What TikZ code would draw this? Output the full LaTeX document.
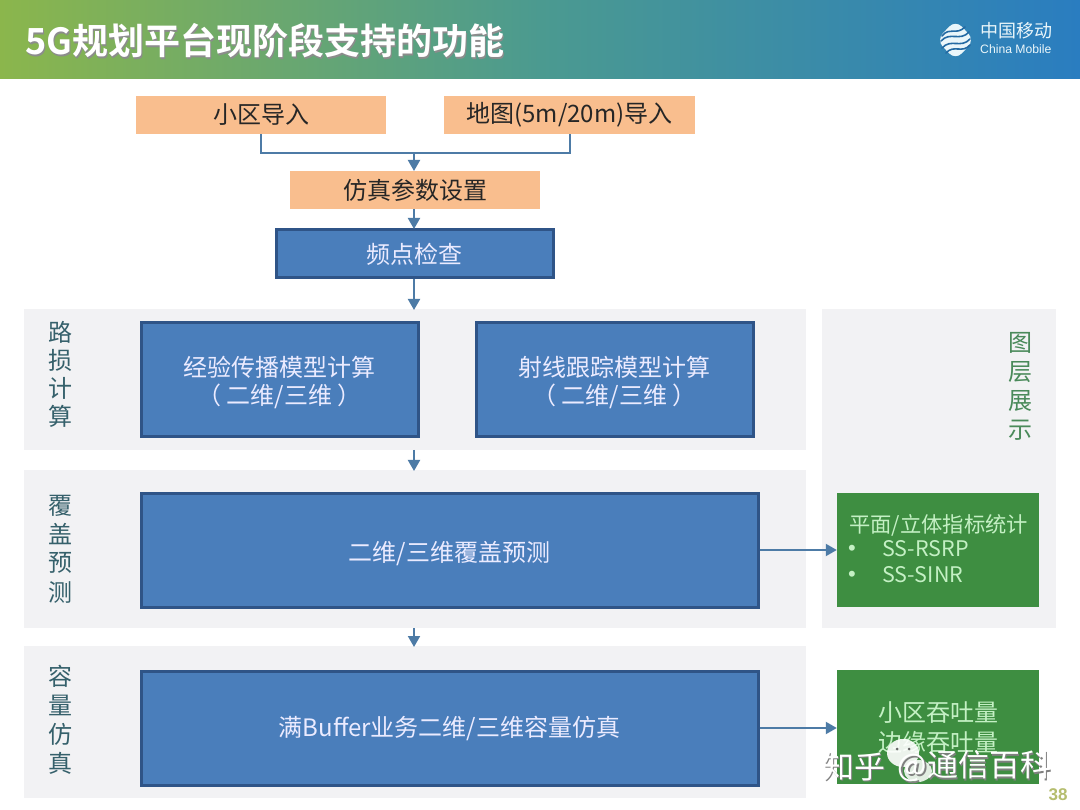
\documentclass[tikz,border=0pt]{standalone}
\usepackage{fontspec}
\setmainfont{Noto Sans CJK SC}
\newfontfamily\boldcjk{Noto Sans CJK SC Bold}
\newfontfamily\latinf{Liberation Sans}
\usetikzlibrary{arrows.meta,shadings}
\definecolor{peach}{HTML}{F9BE8E}
\definecolor{bluefill}{HTML}{4A7EBB}
\definecolor{blueline}{HTML}{2F5487}
\definecolor{arrowc}{HTML}{4D7BA6}
\definecolor{panelc}{HTML}{F2F2F4}
\definecolor{greenbox}{HTML}{3E8E41}
\definecolor{lightgreen}{HTML}{C4F0C4}
\definecolor{greentxt}{HTML}{4A8A5A}
\definecolor{sidetxt}{HTML}{35606B}
\definecolor{headl}{HTML}{8BB64C}
\definecolor{headm}{HTML}{4B9A90}
\definecolor{headr}{HTML}{2A7DC0}
\definecolor{logoc}{HTML}{EAF6FA}
\definecolor{pagec}{HTML}{B5BD6E}
\tikzset{
 x=1pt,y=-1pt,
 peachbox/.style={fill=peach,draw=none,text=black!85,font=\fontsize{24}{27}\selectfont,inner sep=0pt},
 bluebox/.style={fill=bluefill,draw=blueline,line width=3pt,text=white!92!blue,align=center,inner sep=0pt,font=\fontsize{24}{28}\selectfont},
 greenboxs/.style={fill=greenbox,draw=none,text=lightgreen,inner sep=0pt},
 panel/.style={fill=panelc,draw=none,inner sep=0pt},
 conn/.style={draw=arrowc,line width=2pt},
 arr/.style={conn,-{Triangle[length=11pt,width=12pt]}},
 sidel/.style={text=sidetxt,font=\fontsize{24}{25}\selectfont,inner sep=0pt},
 gtext/.style={text=lightgreen,inner sep=0pt},
 wmark/.style={inner sep=0pt,anchor=west,font=\fontsize{31}{34}\selectfont},
 logoband/.style={draw=headr!85!black,line width=1.6pt,line cap=round},
}
\newcommand{\boxat}[6]{\node[#1,minimum width=#5-#3,minimum height=#6-#4] (#2) at ({(#3+#5)/2},{(#4+#6)/2})}
\begin{document}
\begin{tikzpicture}
\useasboundingbox (0,0) rectangle (1080,810);
\fill[white] (0,0) rectangle (1080,810);
% header
\shade[left color=headl,right color=headr,middle color=headm] (0,0) rectangle (1080,79);
\node[inner sep=0pt,anchor=west,text=black!45,font=\boldcjk\fontsize{36}{38}\selectfont] at (26.5,42.5) {5G规划平台现阶段支持的功能};
\node[inner sep=0pt,anchor=west,text=white,font=\boldcjk\fontsize{36}{38}\selectfont] (title) at (25,41) {5G规划平台现阶段支持的功能};
% logo
\fill[logoc,rounded corners=9pt] (955.5,20) -- (974.5,40) -- (955.5,60) -- (936.5,40) -- cycle;
\draw[logoband] (942,36) .. controls (950,26) and (956,36) .. (965,27);
\draw[logoband] (941,41) .. controls (950,31) and (960,42) .. (969,32);
\draw[logoband] (942,48) .. controls (951,38) and (961,49) .. (970,39);
\draw[logoband] (946,53) .. controls (954,44) and (962,54) .. (970,45);
% panels
\boxat{panel}{p1}{24}{309}{806}{450} {};
\boxat{panel}{p2}{24}{470}{806}{628} {};
\boxat{panel}{p3}{24}{646}{806}{798} {};
\boxat{panel}{p4}{822}{309}{1056}{628} {};
\node[inner sep=0pt,anchor=west,text=logoc,font=\fontsize{18}{20}\selectfont] (logoa) at (980,31) {中国移动};
\node[inner sep=0pt,anchor=west,text=logoc,font=\latinf\fontsize{12.2}{14}\selectfont] (logob) at (980,49) {China Mobile};
% boxes
\boxat{peachbox}{a}{136}{96}{386}{134} {小区导入};
\boxat{peachbox}{b}{444}{96}{695}{134} {地图(5m/20m)导入};
\boxat{peachbox}{c}{290}{171}{540}{209} {仿真参数设置};
\boxat{bluebox}{d}{276}{230}{553}{278} {频点检查};
\boxat{bluebox}{e}{141}{323}{418}{437} {\rule{0pt}{26pt}经验传播模型计算\\（ 二维/三维 ）};
\boxat{bluebox}{f}{476}{323}{753}{437} {\rule{0pt}{26pt}射线跟踪模型计算\\（ 二维/三维 ）};
\boxat{bluebox}{g}{141}{493}{758}{607} {\rule{0pt}{27pt}二维/三维覆盖预测};
\boxat{bluebox}{h}{141}{671}{758}{785} {满Buffer业务二维/三维容量仿真};
\boxat{greenboxs}{i}{837}{493}{1039}{607} {};
\boxat{greenboxs}{j}{837}{670}{1039}{784} {};
% green text
\node[gtext,anchor=west,font=\fontsize{21.3}{25}\selectfont] (i1) at (849,525) {平面/立体指标统计};
\node[gtext,font=\latinf\fontsize{22}{25}\selectfont] (i2b) at (852,550) {•};
\node[gtext,anchor=west,font=\fontsize{21.5}{25}\selectfont] (i2) at (882,549) {SS-RSRP};
\node[gtext,font=\latinf\fontsize{22}{25}\selectfont] (i3b) at (852,576) {•};
\node[gtext,anchor=west,font=\fontsize{21.5}{25}\selectfont] (i3) at (882,575) {SS-SINR};
\node[gtext,font=\fontsize{24}{27}\selectfont] (j1) at (938,713) {小区吞吐量};
\node[gtext,font=\fontsize{24}{27}\selectfont] (j2) at (938,742) {边缘吞吐量};
% side labels
\foreach \n/\t/\y in {s1/路/332,s2/损/360,s3/计/388,s4/算/416,s5/覆/506,s6/盖/534,s7/预/563,s8/测/592,s9/容/676,s10/量/705,s11/仿/734,s12/真/763}
  \node[sidel] (\n) at (60,\y) {\t};
\foreach \n/\t/\y in {r1/图/343,r2/层/372,r3/展/401,r4/示/430}
  \node[sidel,text=greentxt] (\n) at (1020,\y) {\t};
% connectors
\coordinate (m) at (414,153);
\coordinate (am) at (261,134);
\coordinate (bm) at (570,134);
\draw[conn] (am) |- (m) -| (bm);
\coordinate (ctop) at (414,171);
\coordinate (cbot) at (414,209);
\coordinate (dtop) at (414,229);
\coordinate (dbot) at (414,279);
\coordinate (dend) at (414,310);
\draw[arr] (m) -- (ctop);
\draw[arr] (cbot) -- (dtop);
\draw[arr] (dbot) -- (dend);
\coordinate (q1) at (414,450); \coordinate (q2) at (414,471);
\coordinate (q3) at (414,628); \coordinate (q4) at (414,647);
\draw[arr] (q1) -- (q2);
\draw[arr] (q3) -- (q4);
\draw[arr] (g.east) -- (i.west);
\draw[arr] (h.east) -- (j.west |- h.east);
% footer
\node[inner sep=0pt,text=pagec,font=\latinf\bfseries\fontsize{17}{19}\selectfont] (pg) at (1058,795) {38};
% watermark
\node[wmark,text=black!50] at (824.5,768) {知乎};
\node[wmark,text=white] (wm1) at (823,766.5) {知乎};
\fill[white,opacity=.9] (903,753) ellipse (16pt and 14pt);
\fill[white,opacity=.85] (918,771) ellipse (14pt and 11pt);
\fill[black!60] (897,749) circle (1.5pt) (909,749) circle (1.5pt);
\node[wmark,text=black!50] at (899,768) {@通信百科};
\node[wmark,text=white] (wm2) at (897.5,766.5) {@通信百科};
\end{tikzpicture}
\end{document}
